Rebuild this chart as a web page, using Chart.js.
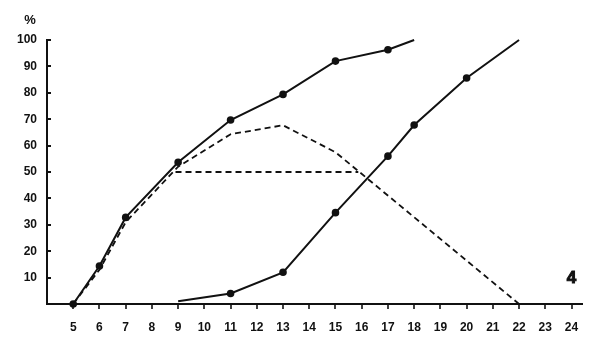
<!DOCTYPE html>
<html>
<head>
<meta charset="utf-8">
<script src="https://cdn.jsdelivr.net/npm/chart.js@4/dist/chart.umd.min.js"></script>
<style>
html,body{margin:0;padding:0;background:#fff;}
#wrap{width:600px;height:347px;position:relative;}
</style>
</head>
<body>
<div id="wrap"><canvas id="c" width="600" height="347"></canvas></div>
<script>
// Data
const upperX = [5, 6, 7, 9, 11, 13, 15, 17, 18];
const upperY = [0, 14.4, 32.8, 53.7, 69.7, 79.4, 92, 96.3, 100];
const upperMarks = [1, 1, 1, 1, 1, 1, 1, 1, 0];

const lowerX = [9, 11, 13, 15, 17, 18, 20, 22];
const lowerY = [1, 4, 12, 34.6, 56, 67.8, 85.6, 100];
const lowerMarks = [0, 1, 1, 1, 1, 1, 1, 0];

const dashCurveX = [5, 6, 7, 9, 11, 13, 15, 22];
const dashCurveY = [0, 13, 31, 52, 64.3, 67.7, 57.5, 0];

const dashFlatX = [8.9, 15.87];
const dashFlatY = [50, 50];

const xTickValues = [5,6,7,8,9,10,11,12,13,14,15,16,17,18,19,20,21,22,23,24];
const yTickValues = [10,20,30,40,50,60,70,80,90,100];
const panelLabel = "4";
const unitLabel = "%";

function pts(xs, ys){ return xs.map((x,i)=>({x:x, y:ys[i]})); }

const INK = '#111';
const FONT = '"Liberation Sans", Arial, sans-serif';

const extras = {
  id: 'extras',
  afterDraw(chart){
    const ctx = chart.ctx;
    const xs = chart.scales.x, ys = chart.scales.y;
    const left = chart.chartArea.left, bottom = chart.chartArea.bottom;
    ctx.save();
    ctx.strokeStyle = INK;
    // y ticks pointing inward
    ctx.lineWidth = 2;
    yTickValues.forEach(v=>{
      const py = Math.round(ys.getPixelForValue(v));
      ctx.beginPath(); ctx.moveTo(left, py); ctx.lineTo(left+4, py); ctx.stroke();
    });
    // x ticks pointing down
    ctx.lineWidth = 1.6;
    xTickValues.forEach(v=>{
      const px = Math.round(xs.getPixelForValue(v));
      ctx.beginPath(); ctx.moveTo(px, bottom); ctx.lineTo(px, bottom+5); ctx.stroke();
    });
    // % label
    ctx.fillStyle = INK;
    ctx.font = 'bold 13px ' + FONT;
    ctx.textAlign = 'center'; ctx.textBaseline = 'middle';
    ctx.fillText(unitLabel, 30, 20);
    // panel number
    ctx.font = 'bold 17px ' + FONT;
    ctx.lineWidth = 1;
    const px = xs.getPixelForValue(24), py = ys.getPixelForValue(9.7);
    ctx.fillText(panelLabel, px, py);
    ctx.strokeText(panelLabel, px, py);
    ctx.restore();
  }
};

new Chart(document.getElementById('c'), {
  type: 'line',
  data: {
    datasets: [
      { data: pts(upperX, upperY), borderColor: INK, backgroundColor: INK, borderWidth: 2,
        pointRadius: upperMarks.map(m=>m?2.8:0), pointHoverRadius: 0, tension: 0 },
      { data: pts(lowerX, lowerY), borderColor: INK, backgroundColor: INK, borderWidth: 2,
        pointRadius: lowerMarks.map(m=>m?2.8:0), pointHoverRadius: 0, tension: 0 },
      { data: pts(dashCurveX, dashCurveY), borderColor: INK, borderWidth: 1.8, borderDash: [6,4],
        pointRadius: 0, tension: 0 },
      { data: pts(dashFlatX, dashFlatY), borderColor: INK, borderWidth: 1.8, borderDash: [6,4],
        pointRadius: 0, tension: 0 }
    ]
  },
  options: {
    responsive: false,
    animation: false,
    clip: false,
    layout: { padding: { top: 40, right: 18, left: 0, bottom: 0 } },
    plugins: { legend: { display: false }, tooltip: { enabled: false } },
    scales: {
      x: {
        type: 'linear', min: 4, max: 24.4,
        afterBuildTicks(s){ s.ticks = xTickValues.map(v=>({value:v})); },
        afterFit(s){ s.height = 43; },
        grid: { display: false, drawTicks: false },
        border: { display: true, color: INK, width: 2 },
        ticks: { padding: 16, color: INK, font: { family: FONT, size: 12, weight: 'bold' }, autoSkip: false, maxRotation: 0 }
      },
      y: {
        type: 'linear', min: 0, max: 100,
        afterBuildTicks(s){ s.ticks = yTickValues.map(v=>({value:v})); },
        afterFit(s){ s.width = 47; },
        grid: { display: false, drawTicks: false },
        border: { display: true, color: INK, width: 2 },
        ticks: { padding: 10, color: INK, font: { family: FONT, size: 12, weight: 'bold' } }
      }
    }
  },
  plugins: [extras]
});
</script>
</body>
</html>
